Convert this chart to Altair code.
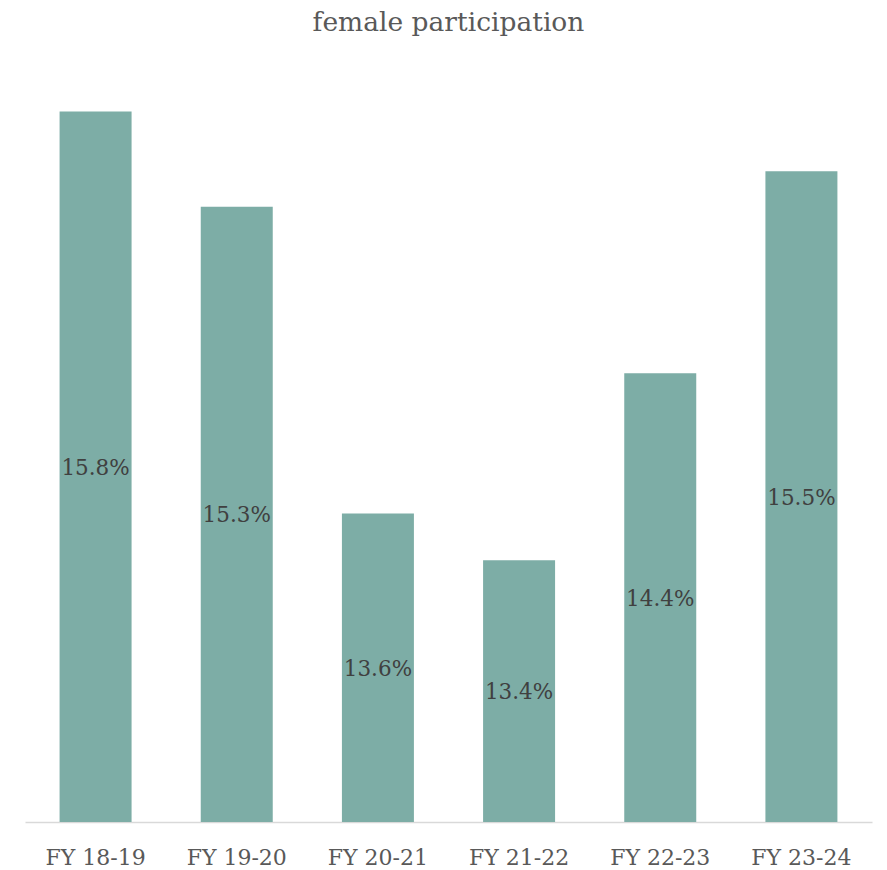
import altair as alt
import pandas as pd

categories = ["FY 18-19", "FY 19-20", "FY 20-21", "FY 21-22", "FY 22-23", "FY 23-24"]
values = [15.8, 15.29, 13.65, 13.4, 14.4, 15.48]
labels = ["15.8%", "15.3%", "13.6%", "13.4%", "14.4%", "15.5%"]

base_value = 12
df = pd.DataFrame({"cat": categories, "val": values, "label": labels})

FONT = "DejaVu Serif"

x = alt.X("cat:N", sort=categories, title=None,
          scale=alt.Scale(paddingInner=0.49, paddingOuter=0.245),
          axis=alt.Axis(labelAngle=0, labelFont=FONT, labelFontSize=22, labelColor="#595959",
                        domainColor="#d9d9d9", domainWidth=1.5, ticks=False, labelPadding=25))
yscale = alt.Scale(domain=[12, 16], nice=False, zero=False)

bars = alt.Chart(df).mark_bar(color="#7dada6").encode(
    x=x,
    y=alt.Y("val:Q", scale=yscale, axis=None),
    y2=alt.datum(base_value),
)

text = alt.Chart(df).transform_calculate(mid="(datum.val + 12) / 2").mark_text(
    font=FONT, fontSize=21.5, color="#404040", baseline="middle", dy=2
).encode(
    x=alt.X("cat:N", sort=categories),
    y=alt.Y("mid:Q", scale=yscale),
    text="label:N",
)

chart = (bars + text).properties(
    width=847, height=748,
    title=alt.TitleParams("female participation", font=FONT, fontSize=26.5, color="#595959",
                          fontWeight="normal", anchor="middle", offset=38),
    autosize=alt.AutoSizeParams(type="none"),
    padding={"left": 25, "top": 74, "right": 15, "bottom": 48},
).configure_view(stroke=None).configure_axis(grid=False)

chart.save("out.html", embed_options={"renderer": "svg", "actions": False})
